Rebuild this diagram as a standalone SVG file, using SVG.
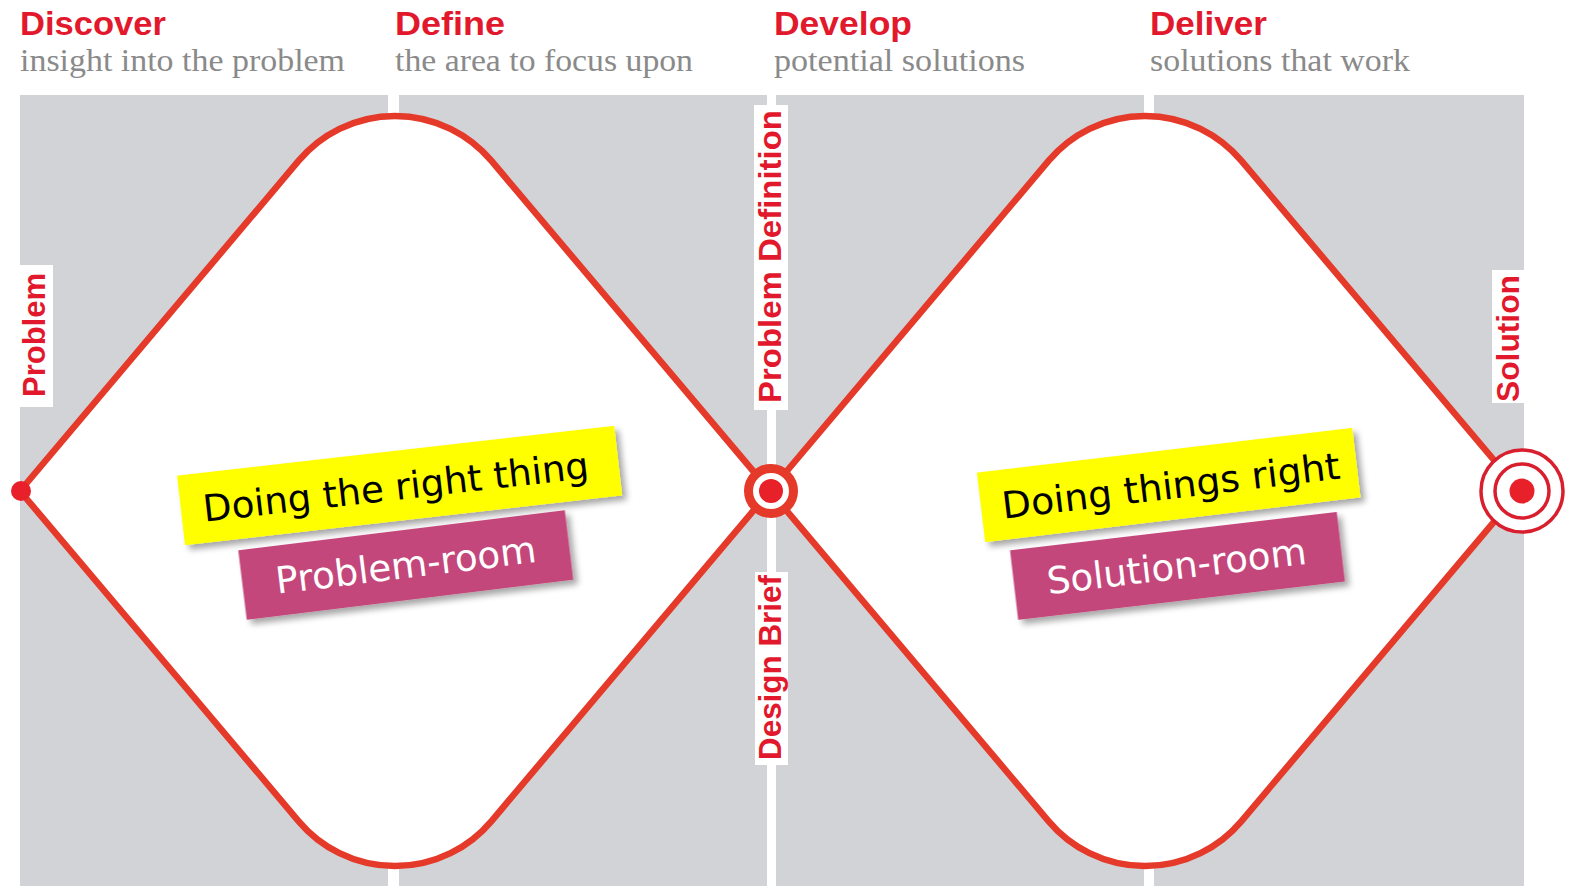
<svg xmlns="http://www.w3.org/2000/svg" width="1571" height="886" viewBox="0 0 1571 886">
<style>
.panel{fill:#d1d3d6}
.head{font-family:"Liberation Sans",Arial,sans-serif;font-weight:bold;font-size:33px;fill:#e2192c}
.sub{font-family:"Liberation Serif","Times New Roman",serif;font-size:31px;fill:#8a8a8a}
.diamond{fill:#ffffff;stroke:#e5392a;stroke-width:6.5}
.vlab{font-family:"Liberation Sans",Arial,sans-serif;font-weight:bold;font-size:31px;fill:#e2192c;text-anchor:middle}
.vbox{fill:#ffffff}
.ban{font-family:"DejaVu Sans",Verdana,sans-serif;font-size:37px;text-anchor:middle}
.yel{fill:#ffff00}
.pink{fill:#c4477b}
</style>
<defs>
<filter id="sh" x="-10%" y="-30%" width="125%" height="170%">
<feDropShadow dx="4" dy="5" stdDeviation="3" flood-color="#000" flood-opacity="0.35"/>
</filter>
</defs>
<rect width="1571" height="886" fill="#ffffff"/>
<g id="panels">
<rect class="panel" x="20" y="95" width="368" height="791"/>
<rect class="panel" x="399" y="95" width="368" height="791"/>
<rect class="panel" x="776" y="95" width="368" height="791"/>
<rect class="panel" x="1154" y="95" width="370" height="791"/>
</g>
<g id="header-discover">
<text class="head" x="20" y="35" textLength="146" lengthAdjust="spacingAndGlyphs">Discover</text>
<text class="sub" x="20" y="71" textLength="325" lengthAdjust="spacingAndGlyphs">insight into the problem</text>
</g>
<g id="header-define">
<text class="head" x="395" y="35" textLength="110" lengthAdjust="spacingAndGlyphs">Define</text>
<text class="sub" x="395" y="71" textLength="298" lengthAdjust="spacingAndGlyphs">the area to focus upon</text>
</g>
<g id="header-develop">
<text class="head" x="774" y="35" textLength="138" lengthAdjust="spacingAndGlyphs">Develop</text>
<text class="sub" x="774" y="71" textLength="251" lengthAdjust="spacingAndGlyphs">potential solutions</text>
</g>
<g id="header-deliver">
<text class="head" x="1150" y="35" textLength="117" lengthAdjust="spacingAndGlyphs">Deliver</text>
<text class="sub" x="1150" y="71" textLength="260" lengthAdjust="spacingAndGlyphs">solutions that work</text>
</g>
<g id="connectors">
<path id="diamond-problem" class="diamond" d="M20 491 L298.7 160.7 A126 126 0 0 1 491.3 160.7 L770 491 L491.3 821.3 A126 126 0 0 1 298.7 821.3 Z"/>
<path id="diamond-solution" class="diamond" d="M770 491 L1048.7 160.7 A126 126 0 0 1 1241.3 160.7 L1520 491 L1241.3 821.3 A126 126 0 0 1 1048.7 821.3 Z"/>
</g>
<g id="label-problem">
<rect class="vbox" x="18" y="265" width="35" height="142"/>
<text class="vlab" transform="translate(45 335) rotate(-90)" textLength="124" lengthAdjust="spacingAndGlyphs">Problem</text>
</g>
<g id="label-problem-definition">
<rect class="vbox" x="754" y="105" width="34" height="305"/>
<text class="vlab" transform="translate(781 256.5) rotate(-90)" textLength="293" lengthAdjust="spacingAndGlyphs">Problem Definition</text>
</g>
<g id="label-design-brief">
<rect class="vbox" x="755" y="572" width="33" height="193"/>
<text class="vlab" transform="translate(781 667.5) rotate(-90)" textLength="185" lengthAdjust="spacingAndGlyphs">Design Brief</text>
</g>
<g id="label-solution">
<rect class="vbox" x="1492" y="270" width="33" height="133"/>
<text class="vlab" transform="translate(1519 338.5) rotate(-90)" textLength="127" lengthAdjust="spacingAndGlyphs">Solution</text>
</g>
<g id="start-point">
<circle cx="21" cy="491" r="10" fill="#e8202a"/>
</g>
<g id="target-center">
<circle cx="771" cy="491" r="22.5" fill="#ffffff" stroke="#e5392a" stroke-width="9"/>
<circle cx="771" cy="491" r="12" fill="#e8202a"/>
</g>
<g id="target-solution">
<circle cx="1522" cy="491" r="41" fill="#ffffff" stroke="#d91f2e" stroke-width="3.5"/>
<circle cx="1522" cy="491" r="27" fill="#ffffff" stroke="#d91f2e" stroke-width="3.5"/>
<circle cx="1522" cy="491" r="12.5" fill="#e8202a"/>
</g>
<g id="banner-right-thing" transform="translate(399.6 485.5) rotate(-6.5)">
<rect class="yel" x="-220" y="-35" width="440" height="70" filter="url(#sh)"/>
<text class="ban" x="-4" y="14" fill="#000000" textLength="388" lengthAdjust="spacingAndGlyphs">Doing the right thing</text>
</g>
<g id="banner-problem-room" transform="translate(405.8 565) rotate(-7)">
<rect class="pink" x="-164.5" y="-35" width="329" height="70" filter="url(#sh)"/>
<text class="ban" x="0" y="13" fill="#ffffff" textLength="262" lengthAdjust="spacingAndGlyphs">Problem-room</text>
</g>
<g id="banner-things-right" transform="translate(1168.7 485) rotate(-6.8)">
<rect class="yel" x="-189" y="-35" width="378" height="70" filter="url(#sh)"/>
<text class="ban" x="2" y="14" fill="#000000" textLength="340" lengthAdjust="spacingAndGlyphs">Doing things right</text>
</g>
<g id="banner-solution-room" transform="translate(1177.5 565.9) rotate(-6.7)">
<rect class="pink" x="-164.5" y="-35" width="329" height="70" filter="url(#sh)"/>
<text class="ban" x="-1" y="13" fill="#ffffff" textLength="261" lengthAdjust="spacingAndGlyphs">Solution-room</text>
</g>
</svg>
